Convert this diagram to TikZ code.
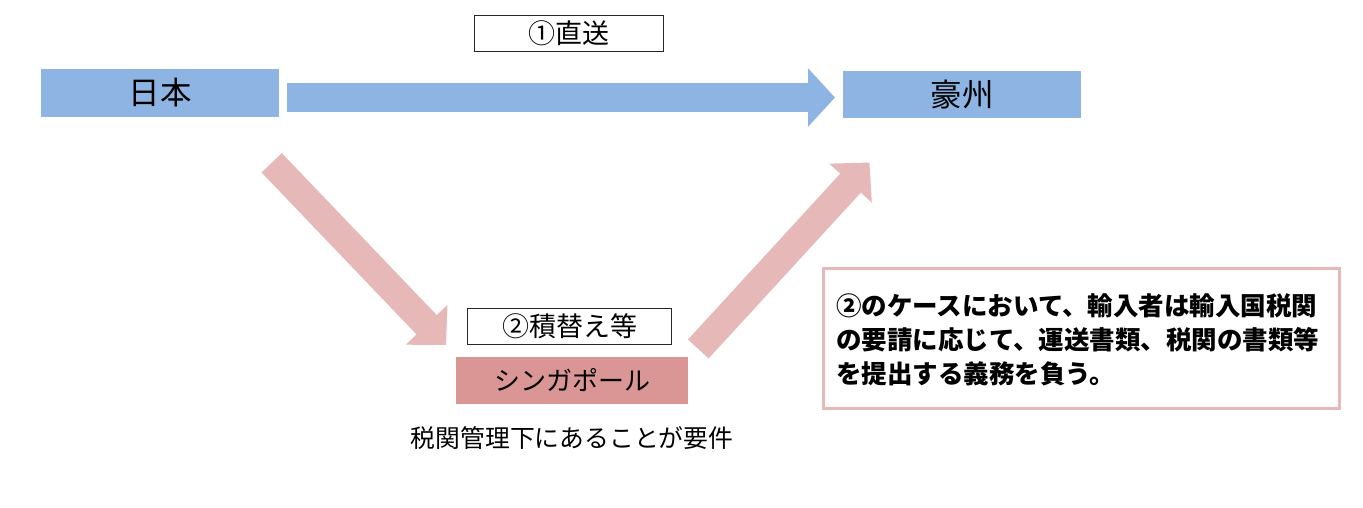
\documentclass[tikz,border=0pt]{standalone}
\usepackage{fontspec}
\setmainfont{Noto Sans CJK JP}
\usetikzlibrary{arrows.meta}
\definecolor{blu}{HTML}{8EB4E3}
\definecolor{pinkarrow}{HTML}{E6B9B8}
\definecolor{sgfill}{HTML}{D99694}
\begin{document}
\begin{tikzpicture}[x=1pt,y=-1pt,
  country/.style={fill=blu, inner sep=0pt, minimum width=238pt, minimum height=48pt, font=\fontsize{31.5}{36}\selectfont},
  labelbox/.style={draw=black!85, line width=1.3pt, fill=white, inner sep=0pt, minimum height=36pt, font=\fontsize{27}{32}\selectfont},
  blockarrow/.style={line width=28pt, -{Triangle[length=28pt,width=56pt]}},
  notetext/.style={anchor=base west, inner sep=0pt, font=\bfseries\fontsize{25.5}{34}\selectfont}]
\useasboundingbox (0,0) rectangle (1363,507);
\fill[white] (0,0) rectangle (1363,507);

% nodes
\node[country] (jp) at (160,93) {日本};
\node[country, minimum height=47pt] (au) at (962,94.5) {豪州};
\node[labelbox, minimum width=189pt] (direct) at (569,33.5) {①直送};
\node[labelbox, minimum width=204pt] (trans) at (569.5,326.5) {②積替え等};
\node[fill=sgfill, inner sep=0pt, minimum width=232pt, minimum height=47pt, font=\fontsize{26}{32}\selectfont] (sg) at (572,380.5) {シンガポール};
\node[inner sep=0pt, font=\fontsize{24.8}{30}\selectfont] (req) at (572,438) {税関管理下にあることが要件};

% note box
\node[draw=pinkarrow, line width=3pt, fill=white, inner sep=0pt, minimum width=516pt, minimum height=140pt] (note) at (1081.5,338.5) {};
\node[notetext] (n1) at (836,315) {②のケースにおいて、輸入者は輸入国税関};
\node[notetext] (n2) at (836,349.5) {の要請に応じて、運送書類、税関の書類等};
\node[notetext] (n3) at (836,383.5) {を提出する義務を負う。};

% arrow end points
\coordinate (b0) at (287,97.5);
\coordinate (b1) at (835,97.5);
\coordinate (p0) at (271.7,162.8);
\coordinate (p1) at (446,345);
\coordinate (q0) at (698.3,349);
\coordinate (q1) at (869.5,162.5);

\draw[blockarrow, blu, line width=29pt, -{Triangle[length=27pt,width=57pt]}] (b0) -- (b1);
\draw[blockarrow, pinkarrow] (p0) -- (p1);
\draw[blockarrow, pinkarrow] (q0) -- (q1);
\end{tikzpicture}
\end{document}
